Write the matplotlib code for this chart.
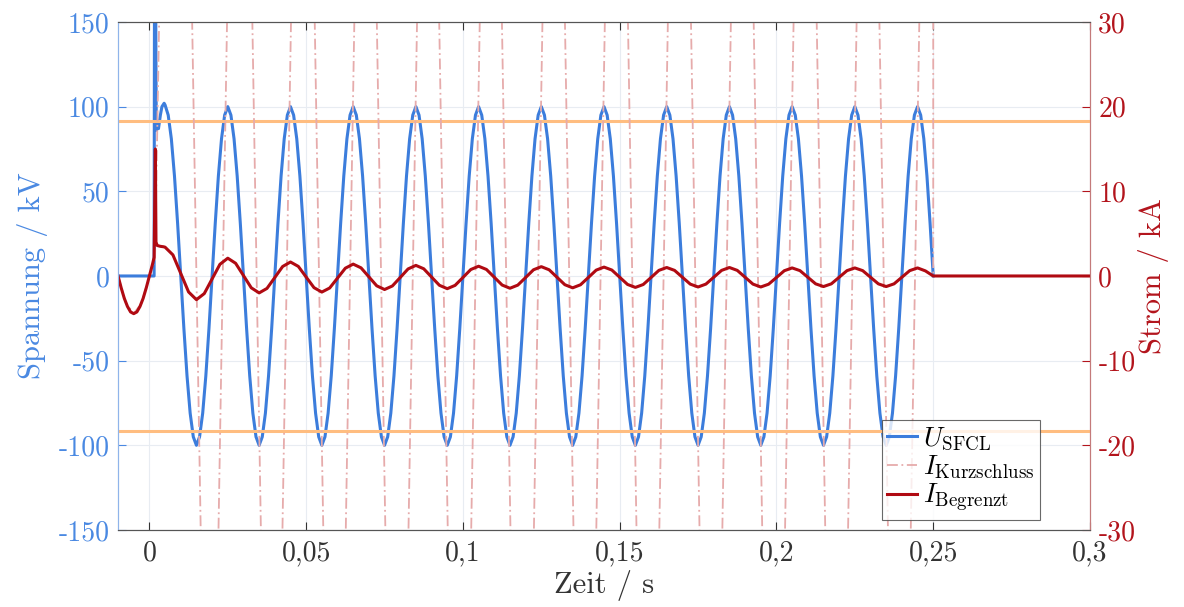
import numpy as np
import matplotlib.pyplot as plt

plt.rcParams['font.family'] = ['cmr10', 'DejaVu Serif']
plt.rcParams['mathtext.fontset'] = 'cm'
plt.rcParams['axes.formatter.use_mathtext'] = True

# U_SFCL in kV: switching transient, then 1 ms samples from 6 ms to 250 ms
u_t_start = [-0.010, 0.0015, 0.0017, 0.0022, 0.0025, 0.0029, 0.0035, 0.0040, 0.0047, 0.0050]
u_start = [0, 0, 280, 86, 91, 87, 95, 100, 102, 101]
u_reg = [95, 81, 59, 31, 0, -31, -59, -81, -95, -100, -95, -81, -59, -31,
         0, 31, 59, 81, 95, 100, 95, 81, 59, 31, 0, -31, -59, -81, -95, -100, -95, -81, -59, -31,
         0, 31, 59, 81, 95, 100, 95, 81, 59, 31, 0, -31, -59, -81, -95, -100, -95, -81, -59, -31,
         0, 31, 59, 81, 95, 100, 95, 81, 59, 31, 0, -31, -59, -81, -95, -100, -95, -81, -59, -31,
         0, 31, 59, 81, 95, 100, 95, 81, 59, 31, 0, -31, -59, -81, -95, -100, -95, -81, -59, -31,
         0, 31, 59, 81, 95, 100, 95, 81, 59, 31, 0, -31, -59, -81, -95, -100, -95, -81, -59, -31,
         0, 31, 59, 81, 95, 100, 95, 81, 59, 31, 0, -31, -59, -81, -95, -100, -95, -81, -59, -31,
         0, 31, 59, 81, 95, 100, 95, 81, 59, 31, 0, -31, -59, -81, -95, -100, -95, -81, -59, -31,
         0, 31, 59, 81, 95, 100, 95, 81, 59, 31, 0, -31, -59, -81, -95, -100, -95, -81, -59, -31,
         0, 31, 59, 81, 95, 100, 95, 81, 59, 31, 0, -31, -59, -81, -95, -100, -95, -81, -59, -31,
         0, 31, 59, 81, 95, 100, 95, 81, 59, 31, 0, -31, -59, -81, -95, -100, -95, -81, -59, -31,
         0, 31, 59, 81, 95, 100, 95, 81, 59, 31, 0, -31, -59, -81, -95, -100, -95, -81, -59, -31,
         0, 31, 59, 81, 95, 100, 95, 81, 59, 31, 0]

# I_Begrenzt in kA
ib_t_start = [-0.010, -0.009, -0.008, -0.007, -0.006, -0.005, -0.004, -0.003, -0.002, -0.001,
              0.000, 0.001, 0.0015, 0.0019, 0.0021, 0.0025, 0.0035, 0.0045, 0.0050]
ib_start = [0, -1.4, -2.65, -3.6, -4.25, -4.45, -4.25, -3.6, -2.65, -1.4,
            0, 1.4, 2.2, 15, 4.0, 3.6, 3.5, 3.45, 3.4]
# 2.5 ms samples from 7.5 ms to 247.5 ms
ib_reg = [2.49, 0.3, -1.89, -2.8,
          -2.08, -0.35, 1.38, 2.1,
          1.5, 0.05, -1.4, -2.0,
          -1.47, -0.18, 1.12, 1.65,
          1.13, -0.13, -1.38, -1.9,
          -1.42, -0.25, 0.92, 1.4,
          0.96, -0.1, -1.16, -1.6,
          -1.18, -0.18, 0.83, 1.25,
          0.85, -0.13, -1.1, -1.5,
          -1.11, -0.18, 0.76, 1.15,
          0.77, -0.15, -1.07, -1.45,
          -1.08, -0.18, 0.73, 1.1,
          0.73, -0.15, -1.03, -1.4,
          -1.04, -0.18, 0.69, 1.05,
          0.7, -0.15, -1.0, -1.35,
          -1.01, -0.18, 0.66, 1.0,
          0.66, -0.15, -0.96, -1.3,
          -0.96, -0.15, 0.66, 1.0,
          0.66, -0.15, -0.96, -1.3,
          -0.97, -0.18, 0.62, 0.95,
          0.63, -0.15, -0.93, -1.25,
          -0.93, -0.15, 0.63, 0.95,
          0.63, -0.15, -0.93, -1.25,
          -0.93, -0.15, 0.63, 0.95,
          0.6]
ib_t_end = [0.250, 0.300]
ib_end = [0, 0]

# I_Kurzschluss in kA (mostly far outside the +-30 kA window)
ik_t = [-0.010, -0.0075, -0.005, -0.0025, 0.0, 0.0018, 0.0045, 0.0085,
        0.0125, 0.0150, 0.0175, 0.0192, 0.0209, 0.0234, 0.0259, 0.0288,
        0.0317, 0.0342, 0.0367, 0.0390, 0.0413, 0.0438, 0.0463, 0.0490,
        0.0516, 0.0541, 0.0566, 0.0590, 0.0615, 0.0640, 0.0665, 0.0690,
        0.0714, 0.0739, 0.0764, 0.0790, 0.0815, 0.0840, 0.0865, 0.0889,
        0.0913, 0.0938, 0.0963, 0.0989, 0.1015, 0.1040, 0.1065, 0.1089,
        0.1113, 0.1138, 0.1163, 0.1189, 0.1215, 0.1240, 0.1265, 0.1290,
        0.1314, 0.1339, 0.1364, 0.1389, 0.1414, 0.1439, 0.1464, 0.1490,
        0.1515, 0.1540, 0.1565, 0.1590, 0.1615, 0.1640, 0.1665, 0.1690,
        0.1716, 0.1741, 0.1766, 0.1791, 0.1816, 0.1841, 0.1866, 0.1891,
        0.1916, 0.1941, 0.1966, 0.1991, 0.2016, 0.2041, 0.2066, 0.2091,
        0.2117, 0.2142, 0.2167, 0.2192, 0.2217, 0.2242, 0.2267, 0.2292,
        0.2317, 0.2342, 0.2367, 0.2392, 0.2417, 0.2442, 0.2467, 0.2500,
        0.2500, 0.3000]
ik_v = [0, -3.2, -4.45, -3.2, 0, 2, 60, 125,
        55, 0, -55, -62, -55, 0, 55, 105,
        55, 0, -55, -66, -55, 0, 55, 95,
        55, 0, -55, -68, -55, 0, 55, 88,
        55, 0, -55, -70, -55, 0, 55, 82,
        55, 0, -55, -71, -55, 0, 55, 79,
        55, 0, -55, -72, -55, 0, 55, 77,
        55, 0, -55, -73, -55, 0, 55, 76,
        55, 0, -55, -73, -55, 0, 55, 75,
        55, 0, -55, -74, -55, 0, 55, 75,
        55, 0, -55, -74, -55, 0, 55, 74,
        55, 0, -55, -74, -55, 0, 55, 74,
        55, 0, -55, -74, -55, 0, 55, 70,
        0, 0]

u_limit = 91.5  # kV, orange limit lines

x_ticks = [0, 0.05, 0.1, 0.15, 0.2, 0.25, 0.3]
x_labels = ['0', '0,05', '0,1', '0,15', '0,2', '0,25', '0,3']
u_ticks = [-150, -100, -50, 0, 50, 100, 150]
i_ticks = [-30, -20, -10, 0, 10, 20, 30]

blue = '#3c7ddc'
blue_txt = '#4a89e2'
red = '#b00a12'
red_txt = '#b3141c'
pale = '#e6abab'
orange = '#ffbd80'

u_t = u_t_start + list(np.linspace(0.006, 0.250, len(u_reg)))
u = u_start + u_reg
ib_t = ib_t_start + list(np.linspace(0.0075, 0.2475, len(ib_reg))) + ib_t_end
ib = ib_start + ib_reg + ib_end

fig = plt.figure(figsize=(11.84, 6.07), dpi=100)
ax1 = fig.add_axes([0.0997, 0.1269, 0.8209, 0.8369])
ax2 = ax1.twinx()

l1, = ax1.plot(u_t, u, color=blue, lw=2.2, label=r'$U_{\mathrm{SFCL}}$')
ax1.set_xlim(-0.010, 0.3)
ax1.set_ylim(-150, 150)
ax1.set_xticks(x_ticks)
ax1.set_xticklabels(x_labels)
ax1.set_yticks(u_ticks)
ax1.set_yticklabels([str(v) for v in u_ticks])
ax1.grid(True, color='#e8ecf2', lw=0.8)
ax1.tick_params(axis='x', direction='in', top=True, length=6, labelsize=20, colors='#333333', pad=7)
ax1.tick_params(axis='y', direction='in', length=6, labelsize=20, colors=blue_txt, pad=6)
ax1.set_xlabel('Zeit / s', fontsize=22, color='#333333', labelpad=3)
ax1.set_ylabel('Spannung / kV', fontsize=22, color=blue_txt, labelpad=8)

ax2.axhline(u_limit / 5, color=orange, lw=2.2)
ax2.axhline(-u_limit / 5, color=orange, lw=2.2)
l2, = ax2.plot(ik_t, ik_v, color=pale, lw=1.3, ls=(0, (6, 2, 1, 2)),
               label=r'$I_{\mathrm{Kurzschluss}}$')
l3, = ax2.plot(ib_t, ib, color=red, lw=2.2, label=r'$I_{\mathrm{Begrenzt}}$')
ax2.set_ylim(-30, 30)
ax2.set_yticks(i_ticks)
ax2.set_yticklabels([str(v) for v in i_ticks])
ax2.tick_params(axis='y', direction='in', length=6, labelsize=20, colors=red_txt, pad=6)
ax2.set_ylabel('Strom / kA', fontsize=22, color=red_txt, rotation=90, labelpad=2)

for ax in (ax1, ax2):
    ax.spines['top'].set_color('#555555')
    ax.spines['bottom'].set_color('#555555')
    ax.spines['left'].set_color('#8fb4ea')
    ax.spines['right'].set_color('#c47a7a')

leg = ax2.legend(handles=[l1, l2, l3], loc='lower left', bbox_to_anchor=(0.786, 0.02),
                 fontsize=19.5, frameon=True, fancybox=False, handlelength=1.1,
                 handletextpad=0.2, borderpad=0.2, labelspacing=0.05, borderaxespad=0)
leg.get_frame().set_edgecolor('#444444')
leg.get_frame().set_linewidth(0.8)

fig.savefig('out.png', dpi=100)
